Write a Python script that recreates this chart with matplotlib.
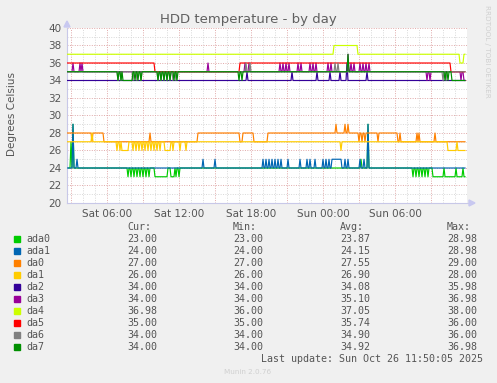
import numpy as np
import matplotlib
matplotlib.use("Agg")
import matplotlib.pyplot as plt
from matplotlib.patches import Rectangle, Polygon

# hours since Sat 00:00, rrd samples every 5 minutes
t_start = 2 + 8 / 12
t_end = 35 + 10 / 12

names = ['ada0', 'ada1', 'da0', 'da1', 'da2', 'da3', 'da4', 'da5', 'da6', 'da7']
colors = ['#00CC00', '#0066B3', '#FF8000', '#FFCC00', '#330099',
          '#990099', '#CCFF00', '#FF0000', '#808080', '#008F00']

cur_vals = ['23.00', '24.00', '27.00', '26.00', '34.00', '34.00', '36.98', '35.00', '34.00', '34.00']
min_vals = ['23.00', '24.00', '27.00', '26.00', '34.00', '34.00', '36.00', '35.00', '34.00', '34.00']
avg_vals = ['23.87', '24.15', '27.55', '26.90', '34.08', '35.10', '37.05', '35.74', '34.90', '34.92']
max_vals = ['28.98', '28.98', '29.00', '28.00', '35.98', '36.98', '38.00', '36.00', '36.00', '36.98']

# each disk: base temperature, plateaus (from, to, value), single-sample spikes (hour, value)
ada0_base = 24
ada0_levels = [(10.0, 11.0, 23), (11.33, 11.58, 23), (33.17, 35.83, 23)]
ada0_spikes = [(3.0, 27), (3.17, 29), (7.75, 23), (8.0, 23), (8.25, 23), (8.5, 23), (8.75, 23),
               (9.0, 23), (9.25, 23), (9.5, 23), (11.75, 23), (12.0, 23),
               (27.17, 25), (27.75, 29), (31.5, 23), (31.75, 23), (32.0, 23), (32.25, 23),
               (32.5, 23), (32.75, 23), (34.08, 24), (35.08, 24), (35.67, 24)]

ada1_base = 24
ada1_levels = [(24.75, 25.5, 25)]
ada1_spikes = [(3.17, 29), (3.5, 25), (14.0, 25), (15.0, 25), (19.0, 25), (19.25, 25), (19.5, 25),
               (19.75, 25), (20.0, 25), (20.25, 25), (20.5, 25), (21.08, 25), (22.08, 25),
               (22.67, 25), (22.92, 25), (23.33, 25), (24.0, 25), (24.25, 25), (24.5, 25),
               (25.83, 25), (26.08, 25), (27.08, 25), (27.42, 25), (27.75, 29)]

da0_base = 27
da0_levels = [(2.67, 5.67, 28), (13.58, 17.0, 28), (17.33, 18.17, 28), (19.42, 30.17, 28)]
da0_spikes = [(4.75, 27), (9.58, 28), (25.08, 29), (25.83, 29), (26.08, 29), (27.0, 27),
              (27.25, 27), (27.5, 27), (28.58, 27), (30.42, 28), (31.83, 28), (32.0, 28), (33.33, 28)]

da1_base = 27
da1_levels = [(7.25, 7.75, 26), (10.83, 11.25, 26), (34.42, 35.83, 26)]
da1_spikes = [(4.75, 28), (6.83, 26), (7.08, 26), (8.17, 26), (8.42, 26), (8.67, 26), (8.92, 26),
              (9.17, 26), (9.42, 26), (9.67, 26), (9.92, 26), (10.17, 26), (10.42, 26),
              (11.5, 26), (12.08, 26), (12.58, 26), (25.5, 26), (35.17, 27)]

da2_base = 34
da2_levels = []
da2_spikes = [(17.67, 35), (21.42, 35), (23.5, 35), (24.58, 35), (25.42, 35), (26.0, 36), (27.67, 35)]

da3_base = 35
da3_levels = [(35.75, 35.83, 34)]
da3_spikes = [(3.17, 36), (3.75, 36), (3.92, 36), (14.42, 36), (17.5, 36), (17.83, 36), (20.42, 36),
              (20.67, 36), (20.92, 36), (21.17, 36), (21.92, 36), (22.17, 36), (22.92, 36), (23.17, 36),
              (23.42, 36), (24.42, 36), (24.67, 36), (26.08, 37), (26.33, 36), (26.58, 36), (27.08, 36),
              (27.33, 36), (27.58, 36), (27.83, 36), (32.67, 34), (32.92, 34), (35.5, 34)]

da4_base = 37
da4_levels = [(24.92, 26.83, 38), (35.42, 35.67, 36)]
da4_spikes = []

da5_base = 36
da5_levels = [(10.0, 17.0, 35), (34.67, 35.83, 35)]
da5_spikes = []

da6_base = 35
da6_levels = []
da6_spikes = [(6.92, 34), (7.17, 34), (8.17, 34), (8.5, 34), (8.83, 34), (10.25, 34), (10.5, 34),
              (10.75, 34), (11.0, 34), (11.25, 34), (11.5, 34), (11.75, 34), (17.58, 36), (17.92, 36),
              (25.0, 36), (25.25, 36), (34.0, 34), (34.25, 34)]

da7_base = 35
da7_levels = [(7.33, 8.08, 34), (34.75, 35.83, 34)]
da7_spikes = [(6.92, 34), (7.17, 34), (8.33, 34), (8.58, 34), (8.83, 34), (10.25, 34), (10.5, 34),
              (10.75, 34), (11.0, 34), (11.25, 34), (11.58, 34), (11.83, 34), (17.0, 34), (17.25, 34),
              (26.08, 37), (34.17, 34), (34.42, 34)]

disks = [(ada0_base, ada0_levels, ada0_spikes), (ada1_base, ada1_levels, ada1_spikes),
         (da0_base, da0_levels, da0_spikes), (da1_base, da1_levels, da1_spikes),
         (da2_base, da2_levels, da2_spikes), (da3_base, da3_levels, da3_spikes),
         (da4_base, da4_levels, da4_spikes), (da5_base, da5_levels, da5_spikes),
         (da6_base, da6_levels, da6_spikes), (da7_base, da7_levels, da7_spikes)]


def build(base, levels, spikes):
    t = np.arange(t_start, t_end + 1e-6, 1 / 12)
    v = np.full(len(t), float(base))
    for a, b, val in levels:
        v[(t >= a - 0.02) & (t <= b + 0.02)] = val
    for h, val in spikes:
        v[np.argmin(np.abs(t - h))] = val
    return t, v


W, H = 497, 383
TXT = '#555555'
fig = plt.figure(figsize=(W / 100, H / 100), dpi=100, facecolor='#F0F0F0')

# plot area in pixels: x 67..467, y 28..203
ax = fig.add_axes([67 / W, 1 - 203 / H, 400 / W, 175 / H])
ax.set_facecolor('white')
ax.set_xlim(t_start, 36.0)
ax.set_ylim(20, 40)

# grid: minor grey every 1 h / 1 degree, major red every 3 h / 2 degrees
for h in np.arange(3, 36, 1):
    c = '#E0A8A8' if h % 3 == 0 else '#D8D8D8'
    ax.axvline(h, color=c, lw=0.7, ls=(0, (1, 1.5)), zorder=1)
for y in range(21, 41):
    c = '#E0A8A8' if y % 2 == 0 else '#D8D8D8'
    ax.axhline(y, color=c, lw=0.7, ls=(0, (1, 1.5)), zorder=1)

for i, (base, levels, spikes) in enumerate(disks):
    t, v = build(base, levels, spikes)
    ax.plot(t, v, color=colors[i], lw=0.85, zorder=2 + i)

ax.set_yticks(range(20, 41, 2))
ax.set_yticklabels([str(y) for y in range(20, 41, 2)], fontsize=7.5, color=TXT)
ax.set_xticks([6, 12, 18, 24, 30])
ax.set_xticklabels(['Sat 06:00', 'Sat 12:00', 'Sat 18:00', 'Sun 00:00', 'Sun 06:00'],
                   fontsize=7.5, color=TXT)
ax.tick_params(length=0, pad=4)
for s in ['top', 'right']:
    ax.spines[s].set_visible(False)
for s in ['left', 'bottom']:
    ax.spines[s].set_color('#C8C8E8')
    ax.spines[s].set_linewidth(0.8)
ax.spines['bottom'].set_bounds(t_start, 36.2)

# axis arrows
fig.patches.append(Polygon([[64 / W, 1 - 27 / H], [70 / W, 1 - 27 / H], [67 / W, 1 - 21 / H]],
                           closed=True, transform=fig.transFigure, color='#C8C8F0', zorder=5))
fig.patches.append(Polygon([[469 / W, 1 - 200 / H], [469 / W, 1 - 206 / H], [475 / W, 1 - 203 / H]],
                           closed=True, transform=fig.transFigure, color='#C8C8F0', zorder=5))

fig.text(248 / W, 1 - 19 / H, 'HDD temperature - by day', ha='center', va='center',
         fontsize=9.5, color='#606060')
fig.text(12 / W, 1 - 114 / H, 'Degrees Celsius', rotation=90, ha='center', va='center',
         fontsize=7.5, color=TXT)
fig.text(487 / W, 1 - 5 / H, 'RRDTOOL / TOBI OETIKER', rotation=270, ha='center', va='top',
         fontsize=5.2, color='#D0D0D0')

# legend table
mono = 'DejaVu Sans Mono'
fs = 7.2
cols_x = [127, 233, 340, 447]
for x, head in zip(cols_x, ['Cur:', 'Min:', 'Avg:', 'Max:']):
    fig.text(x / W, 1 - 227.5 / H, head, ha='left', va='center', family=mono, fontsize=fs, color=TXT)
for i, name in enumerate(names):
    y = 239.3 + i * 12.0
    fig.patches.append(Rectangle((14 / W, 1 - (y + 3) / H), 6 / W, 6 / H,
                                 transform=fig.transFigure, color=colors[i]))
    fig.text(26 / W, 1 - y / H, name, ha='left', va='center', family=mono, fontsize=fs, color=TXT)
    for x, vals in zip(cols_x, [cur_vals, min_vals, avg_vals, max_vals]):
        fig.text(x / W, 1 - y / H, vals[i], ha='left', va='center', family=mono, fontsize=fs, color=TXT)

fig.text(483 / W, 1 - 359 / H, 'Last update: Sun Oct 26 11:50:05 2025', ha='right', va='center',
         family=mono, fontsize=fs, color=TXT)
fig.text(248 / W, 1 - 372 / H, 'Munin 2.0.76', ha='center', va='center', fontsize=5.2, color='#D0D0D0')

fig.savefig('out.png', dpi=100, facecolor=fig.get_facecolor())
